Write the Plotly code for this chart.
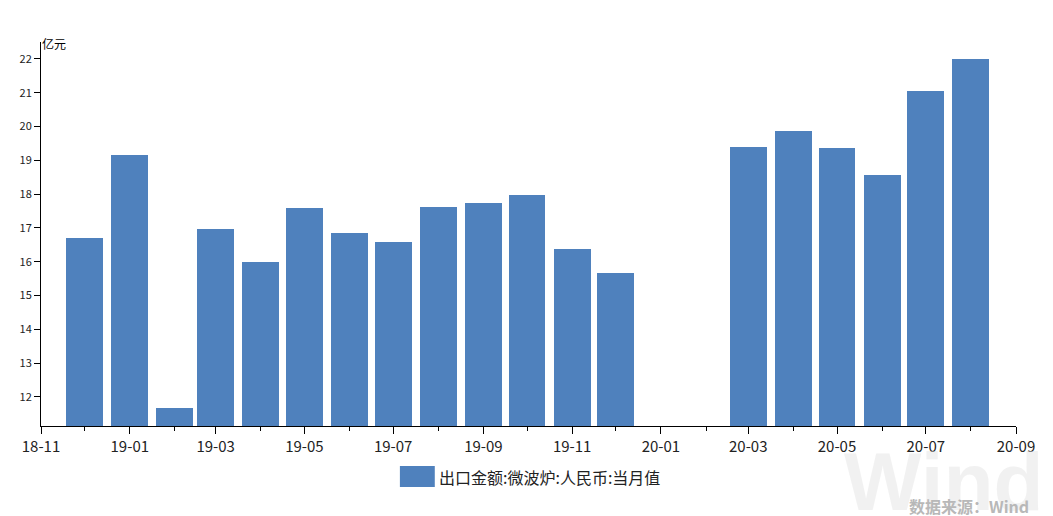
import plotly.graph_objects as go

# monthly export value of microwave ovens, 100 million CNY (20-01, 20-02 missing)
months = ["2018-12-01", "2019-01-01", "2019-02-01", "2019-03-01", "2019-04-01",
          "2019-05-01", "2019-06-01", "2019-07-01", "2019-08-01", "2019-09-01",
          "2019-10-01", "2019-11-01", "2019-12-01", "2020-03-01", "2020-04-01",
          "2020-05-01", "2020-06-01", "2020-07-01", "2020-08-01"]
values = [16.70, 19.16, 11.67, 16.97, 15.99, 17.59, 16.85, 16.59, 17.62, 17.74,
          17.98, 16.38, 15.67, 19.40, 19.87, 19.37, 18.57, 21.05, 22.00]

series_name = "出口金额:微波炉:人民币:当月值"
unit = "亿元"
source = "数据来源：Wind"

bar_color = "#4F81BD"
font_cjk = "Noto Sans CJK SC"
day_ms = 86400000

fig = go.Figure()
fig.add_trace(go.Bar(
    x=months, y=values, name=series_name,
    marker=dict(color=bar_color, line=dict(width=0)),
    width=25.3 * day_ms,
    showlegend=False,
))

fig.update_xaxes(
    type="date",
    range=["2018-11-01", "2020-09-01"],
    tick0="2018-11-01", dtick="M2", tickformat="%y-%m",
    ticks="outside", ticklen=7, tickcolor="black",
    minor=dict(dtick="M1", ticks="outside", ticklen=4, tickcolor="black"),
    showline=True, linecolor="black", linewidth=1,
    showgrid=False, zeroline=False,
    tickfont=dict(family=font_cjk, size=15, color="#222"),
)
fig.update_yaxes(
    range=[11.14, 22.5],
    tick0=12, dtick=1,
    ticks="outside", ticklen=6, tickcolor="black",
    showline=True, linecolor="black", linewidth=1,
    showgrid=False, zeroline=False,
    tickfont=dict(family=font_cjk, size=11, color="#222"),
)

# unit label at top of y axis
fig.add_annotation(text=unit, xref="paper", yref="paper", x=0, y=1.0,
                   xanchor="left", yanchor="bottom", showarrow=False, xshift=-1,
                   yshift=-12, font=dict(family=font_cjk, size=12, color="black"))

# legend drawn by hand (plot area spans screen x 38..1016, y 42..426)
fig.add_shape(type="rect", xref="paper", yref="paper",
              x0=(398 - 38) / 978, x1=(433 - 38) / 978,
              y0=-(466 - 426) / 384, y1=-(487 - 426) / 384,
              fillcolor=bar_color, line=dict(width=0))
fig.add_annotation(text=series_name, xref="paper", yref="paper",
                   x=(435 - 38) / 978, y=-(477 - 426) / 384,
                   xanchor="left", yanchor="middle", showarrow=False,
                   font=dict(family=font_cjk, size=16, color="#222"))

# watermark
fig.add_annotation(text="Wind", xref="paper", yref="paper",
                   x=(1046 - 38) / 978, y=-(481 - 426) / 384,
                   xanchor="right", yanchor="middle", showarrow=False,
                   font=dict(family="Liberation Sans", size=82, weight="bold",
                             color="rgba(225,225,225,0.45)"))
fig.add_annotation(text=source, xref="paper", yref="paper",
                   x=(1031 - 38) / 978, y=-(506 - 426) / 384,
                   xanchor="right", yanchor="middle", showarrow=False,
                   font=dict(family=font_cjk, size=16, color="#b8b8b8", weight="bold"))

# the page body adds an 8px offset, so the figure is 8px smaller each way
fig.update_layout(
    width=1045, height=508,
    margin=dict(l=30, r=37, t=34, b=90),
    plot_bgcolor="white", paper_bgcolor="white",
    bargap=0,
)

fig.write_html("out.html")
